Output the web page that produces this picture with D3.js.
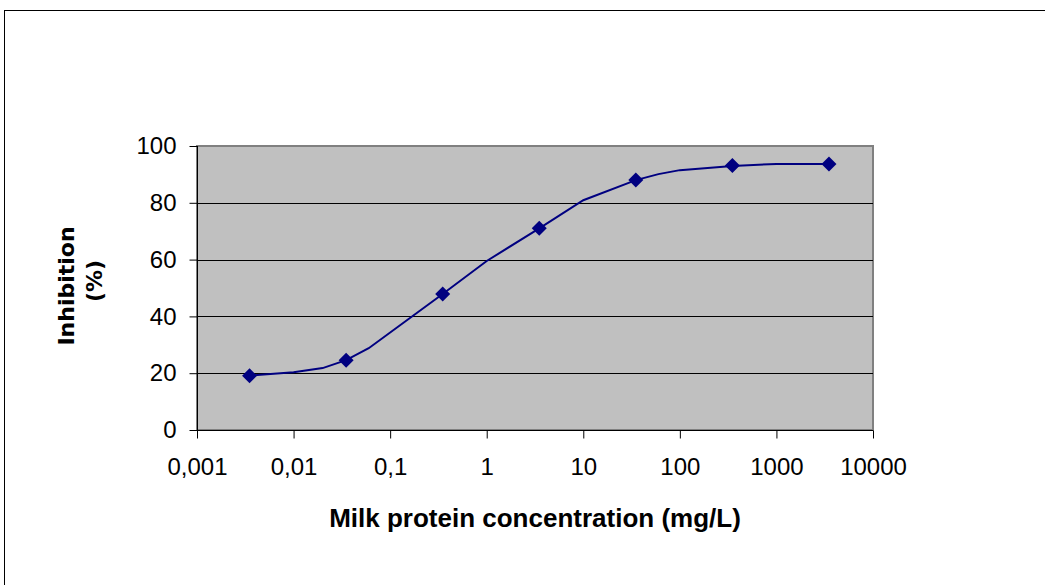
<!DOCTYPE html>
<html>
<head>
<meta charset="utf-8">
<script src="https://cdn.jsdelivr.net/npm/d3@7"></script>
<style>
  body { margin: 0; background: #fff; }
  svg { display: block; }
</style>
</head>
<body>
<svg id="chart" width="1045" height="585"></svg>
<script>
// measured points
var concentration = [0.0035, 0.035, 0.35, 3.5, 35, 350, 3500];
var inhibition = [19.1, 24.6, 47.9, 71.0, 88.0, 93.1, 93.7];

// fitted curve drawn through the points
var fitConcentration = [0.0035, 0.01, 0.02, 0.035, 0.06, 0.35, 1, 3.5, 10, 35, 60, 100, 350, 1000, 3500];
var fitInhibition = [19.2, 20.3, 21.8, 24.6, 28.8, 47.9, 59.5, 71.0, 80.9, 88.0, 90.1, 91.5, 93.0, 93.7, 93.7];

var xTicks = [0.001, 0.01, 0.1, 1, 10, 100, 1000, 10000];
var yTicks = [0, 20, 40, 60, 80, 100];

var plotLeft = 197, plotRight = 873, plotTop = 146, plotBottom = 430;

var svg = d3.select("#chart");

// outer chart frame (runs off the window on right/bottom)
svg.append("rect")
  .attr("x", 4.5).attr("y", 10.5)
  .attr("width", 1200).attr("height", 800)
  .style("fill", "#fff")
  .style("stroke", "#000")
  .style("stroke-width", 1);

var x = d3.scaleLog().domain([0.001, 10000]).range([plotLeft, plotRight]);
var y = d3.scaleLinear().domain([0, 100]).range([plotBottom, plotTop]);

// plot area
svg.append("rect")
  .attr("x", plotLeft).attr("y", plotTop)
  .attr("width", plotRight - plotLeft).attr("height", plotBottom - plotTop)
  .style("fill", "#c0c0c0")
  .style("stroke", "#808080")
  .style("stroke-width", 2);

// gridlines
svg.selectAll(".grid")
  .data(yTicks.filter(function(d) { return d > 0 && d < 100; }))
  .enter().append("line")
    .attr("class", "grid")
    .attr("x1", plotLeft).attr("x2", plotRight)
    .attr("y1", function(d) { return Math.round(y(d)) + 0.5; })
    .attr("y2", function(d) { return Math.round(y(d)) + 0.5; })
    .style("stroke", "#000")
    .style("stroke-width", 1);

var fmt = function(d) { return String(d).replace(".", ","); };

var xAxis = svg.append("g")
  .attr("transform", "translate(0," + (plotBottom + 0.5) + ")")
  .call(d3.axisBottom(x).tickValues(xTicks).tickFormat(fmt).tickSize(8).tickPadding(19));

var yAxis = svg.append("g")
  .attr("transform", "translate(" + (plotLeft + 0.5) + ",0)")
  .call(d3.axisLeft(y).tickValues(yTicks).tickSize(8).tickPadding(13));

[xAxis, yAxis].forEach(function(a) {
  a.select(".domain").style("stroke", "#000");
  a.selectAll(".tick line").style("stroke", "#000");
  a.selectAll("text")
    .style("font-family", "'Liberation Sans', Arial, sans-serif")
    .style("font-size", "24px")
    .style("fill", "#000");
});
xAxis.select(".domain").attr("d", "M" + plotLeft + ",0H" + plotRight);
yAxis.select(".domain").attr("d", "M0," + plotTop + "V" + plotBottom);

// fitted line
var line = d3.line()
  .x(function(d) { return x(d[0]); })
  .y(function(d) { return y(d[1]); });

svg.append("path")
  .datum(d3.zip(fitConcentration, fitInhibition))
  .attr("d", line)
  .style("fill", "none")
  .style("stroke", "#000080")
  .style("stroke-width", 2);

// diamond markers
svg.selectAll(".marker")
  .data(d3.zip(concentration, inhibition))
  .enter().append("path")
    .attr("class", "marker")
    .attr("transform", function(d) { return "translate(" + x(d[0]) + "," + y(d[1]) + ")"; })
    .attr("d", "M0,-7.5L7.5,0L0,7.5L-7.5,0Z")
    .style("fill", "#000080");

// axis titles
svg.append("text")
  .attr("x", (plotLeft + plotRight) / 2).attr("y", 527)
  .attr("text-anchor", "middle")
  .style("font-family", "'Liberation Sans', Arial, sans-serif")
  .style("font-weight", "bold")
  .style("font-size", "26px")
  .text("Milk protein concentration (mg/L)");

var yTitleFont = { family: "'DejaVu Sans', Verdana, sans-serif", size: "22px" };

svg.append("text")
  .attr("transform", "translate(74,286) rotate(-90)")
  .attr("text-anchor", "middle")
  .style("font-family", yTitleFont.family)
  .style("font-weight", "bold")
  .style("font-size", yTitleFont.size)
  .text("Inhibition");

svg.append("text")
  .attr("transform", "translate(102,281) rotate(-90)")
  .attr("text-anchor", "middle")
  .style("font-family", yTitleFont.family)
  .style("font-weight", "bold")
  .style("font-size", yTitleFont.size)
  .text("(%)");
</script>
</body>
</html>
